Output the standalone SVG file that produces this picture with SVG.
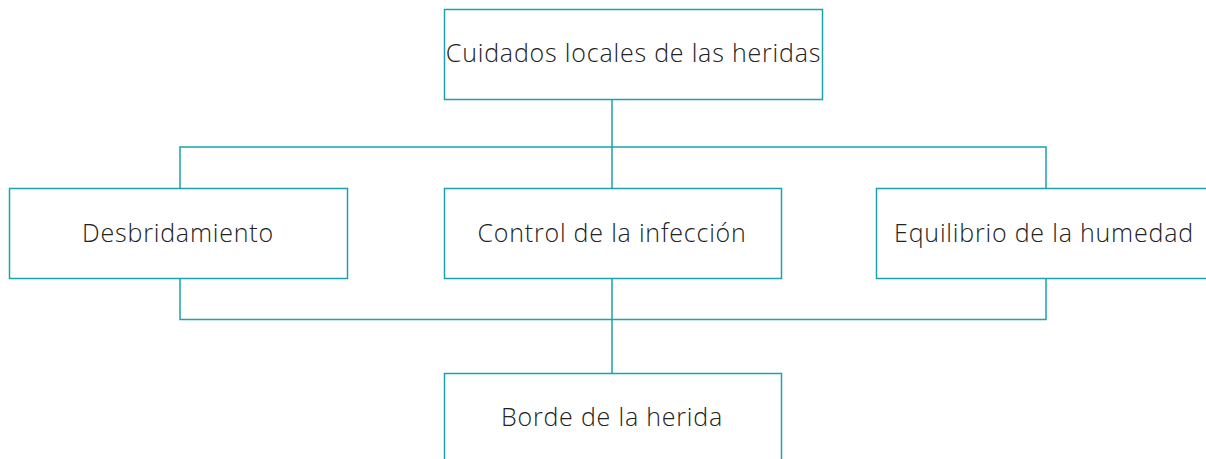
<svg xmlns="http://www.w3.org/2000/svg" width="1206" height="459" viewBox="0 0 1206 459">
<style>
.box{fill:#fff;stroke:#1ba2ac;stroke-width:1.5}
.ln{fill:none;stroke:#1ba2ac;stroke-width:1.5}
.t{font-family:"Open Sans","Noto Sans",sans-serif;font-size:25px;font-weight:300;fill:#222;text-anchor:middle;letter-spacing:0.8px}
</style>
<rect width="1206" height="459" fill="#fff"/>
<g id="connectors">
<path class="ln" d="M612 99.5V188.5"/>
<path class="ln" d="M180 188.5V147H1046V188.5"/>
<path class="ln" d="M180 278.5V319.5H1046V278.5"/>
<path class="ln" d="M612 278.5V373.5"/>
</g>
<g id="n-top"><rect class="box" x="444.5" y="9.5" width="378" height="90"/><text class="t" x="633.5" y="62">Cuidados locales de las heridas</text></g>
<g id="n-desb"><rect class="box" x="9.5" y="188.5" width="338" height="90"/><text class="t" x="178" y="242">Desbridamiento</text></g>
<g id="n-control"><rect class="box" x="444.5" y="188.5" width="337" height="90"/><text class="t" x="612" y="242">Control de la infección</text></g>
<g id="n-equil"><rect class="box" x="876.5" y="188.5" width="340" height="90"/><text class="t" x="1044" y="242">Equilibrio de la humedad</text></g>
<g id="n-borde"><rect class="box" x="444.5" y="373.5" width="337" height="100"/><text class="t" x="612" y="426">Borde de la herida</text></g>
</svg>
